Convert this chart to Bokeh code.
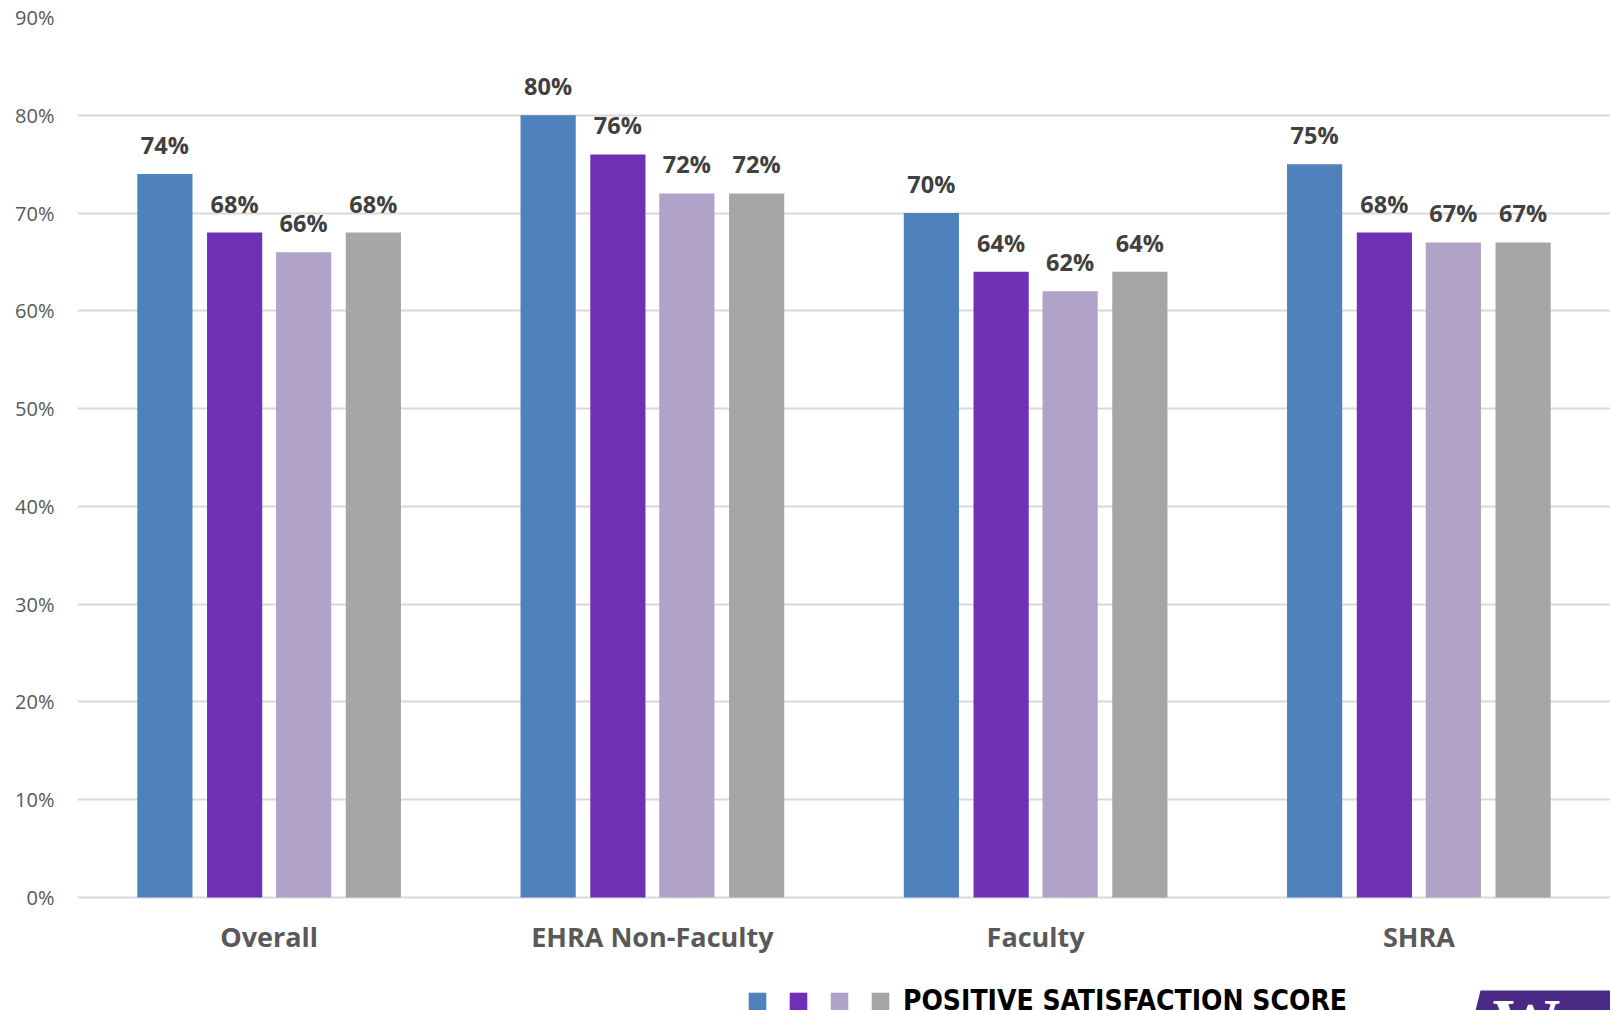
from bokeh.plotting import figure
from bokeh.models import (ColumnDataSource, FactorRange, Legend, LegendItem, Label,
                          PolyAnnotation, FixedTicker)
from bokeh.transform import dodge
from bokeh.core.properties import value
from bokeh.embed import file_html
from bokeh.resources import INLINE

# Positive satisfaction score by employee group, four survey series
categories = ["Overall", "EHRA Non-Faculty", "Faculty", "SHRA"]
series_a = [74, 80, 70, 75]
series_b = [68, 76, 64, 68]
series_c = [66, 72, 62, 67]
series_d = [68, 72, 64, 67]
y_ticks = [0, 10, 20, 30, 40, 50, 60, 70, 80, 90]
legend_title = "POSITIVE SATISFACTION SCORE"

series_keys = ["a", "b", "c", "d"]
series_values = [series_a, series_b, series_c, series_d]
series_colors = ["#4F81BD", "#7030B5", "#B1A2C8", "#A6A6A6"]
series_offsets = [-0.272, -0.09, 0.09, 0.272]

data = {"cat": categories}
for k, vals in zip(series_keys, series_values):
    data[k] = vals
    data[k + "_lbl"] = [f"{v}%" for v in vals]
src = ColumnDataSource(data)

W, H = 1610, 1010
LEFT = 77
# plot area runs to the bottom edge so the legend strip and banner sit inside it
p = figure(x_range=FactorRange(*categories, range_padding=0), y_range=(-11.557, 90),
           width=W, height=H, output_backend="svg", toolbar_location=None,
           min_border_left=LEFT, min_border_right=0, min_border_top=17,
           min_border_bottom=0)
p.outline_line_color = None
p.xgrid.grid_line_color = None
p.ygrid.grid_line_color = "#D9D9D9"
p.ygrid.grid_line_width = 2

p.yaxis.ticker = FixedTicker(ticks=y_ticks)
p.yaxis.major_label_overrides = {t: f"{t}%" for t in y_ticks}
p.yaxis.axis_line_color = None
p.yaxis.major_tick_line_color = None
p.yaxis.minor_tick_line_color = None
p.yaxis.major_tick_out = 0
p.yaxis.major_label_standoff = 23
p.yaxis.major_label_text_font = "Open Sans"
p.yaxis.major_label_text_font_size = "20px"
p.yaxis.major_label_text_color = "#595959"

p.xaxis.axis_line_color = None
p.xaxis.major_tick_line_color = None
p.xaxis.major_tick_out = 0
p.xaxis.major_tick_in = 0
p.xaxis.major_label_standoff = -93
p.xaxis.major_label_text_font = "Open Sans"
p.xaxis.major_label_text_font_style = "bold"
p.xaxis.major_label_text_font_size = "27px"
p.xaxis.major_label_text_color = "#595959"

renderers = []
for k, col, off in zip(series_keys, series_colors, series_offsets):
    r = p.vbar(x=dodge("cat", off, range=p.x_range), top=k, width=0.144,
               source=src, fill_color=col, line_color=None)
    renderers.append(r)
    p.text(x=dodge("cat", off, range=p.x_range), y=k, text=k + "_lbl", source=src,
           text_align="center", text_baseline="alphabetic", y_offset=-29,
           text_font=value("Open Sans"), text_font_style="bold",
           text_font_size="23.5px", text_color="#404040")

items = [LegendItem(label=value(" "), renderers=[renderers[0]]),
         LegendItem(label=value(" "), renderers=[renderers[1]]),
         LegendItem(label=value(" "), renderers=[renderers[2]]),
         LegendItem(label=value(legend_title), renderers=[renderers[3]])]
legend = Legend(items=items, orientation="horizontal", location=(669, -7),
                glyph_width=22, glyph_height=22, label_standoff=12, label_width=7,
                spacing=0, padding=0, margin=0, border_line_color=None,
                background_fill_alpha=0,
                label_text_font="DejaVu Sans Condensed, Roboto",
                label_text_font_style="bold", label_text_font_size="28px",
                label_text_color="black")
p.add_layout(legend)

# purple corner banner with serif initial
# (screen units: x from the plot area's left edge, y up from its bottom edge)
banner = PolyAnnotation(xs=[1480 - LEFT, 1610 - LEFT, 1610 - LEFT, 1475 - LEFT],
                        ys=[20, 20, 0, 0], xs_units="screen", ys_units="screen",
                        fill_color="#4B2A85", fill_alpha=1, line_color=None)
p.add_layout(banner)
p.add_layout(Label(x=1492 - LEFT, y=27, x_units="screen", y_units="screen", text="W",
                   text_font="Liberation Serif", text_font_style="bold",
                   text_font_size="68px", text_color="white", text_baseline="top"))

open("out.html", "w").write(file_html(p, INLINE))
